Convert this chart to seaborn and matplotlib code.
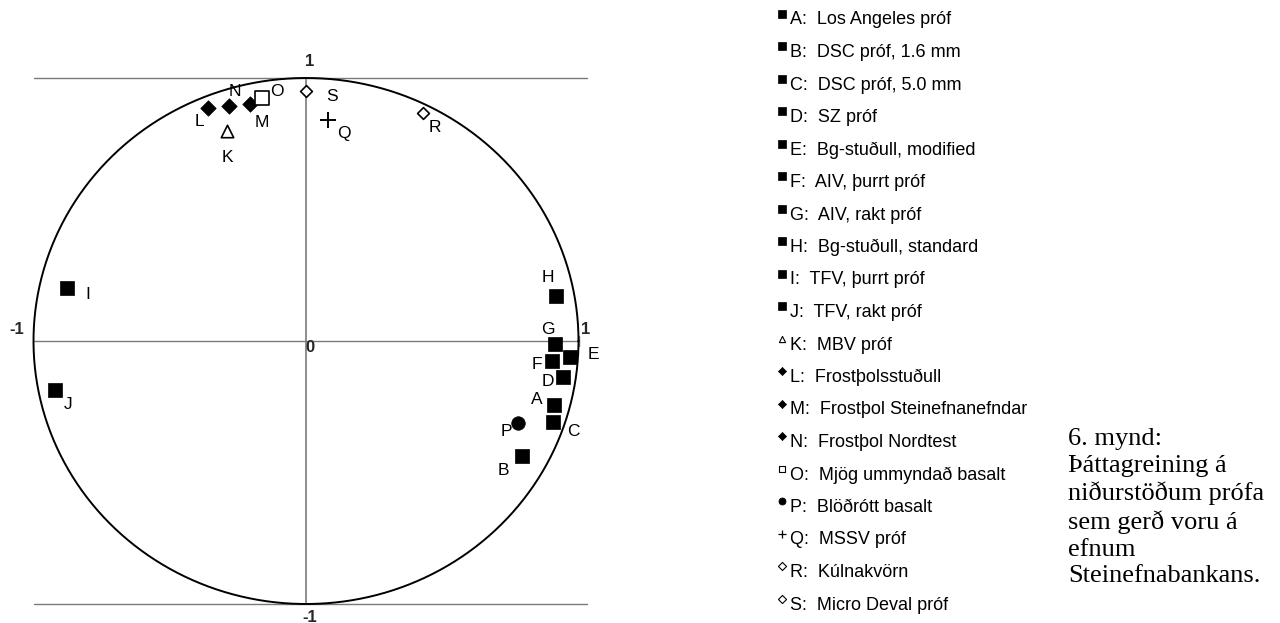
import matplotlib
matplotlib.use("Agg")
import matplotlib.pyplot as plt
import numpy as np
import pandas as pd
import seaborn as sns

# ---------------- data ----------------
codes = ["A", "B", "C", "D", "E", "F", "G", "H", "I", "J",
         "K", "L", "M", "N", "O", "P", "Q", "R", "S"]
names = ["Los Angeles próf", "DSC próf, 1.6 mm", "DSC próf, 5.0 mm", "SZ próf",
         "Bg-stuðull, modified", "AIV, þurrt próf", "AIV, rakt próf",
         "Bg-stuðull, standard", "TFV, þurrt próf", "TFV, rakt próf",
         "MBV próf", "Frostþolsstuðull", "Frostþol Steinefnanefndar",
         "Frostþol Nordtest", "Mjög ummyndað basalt", "Blöðrótt basalt",
         "MSSV próf", "Kúlnakvörn", "Micro Deval próf"]
factor1 = [0.910, 0.792, 0.906, 0.942, 0.969, 0.902, 0.914, 0.916, -0.877, -0.921,
           -0.290, -0.360, -0.206, -0.283, -0.161, 0.778, 0.081, 0.429, 0.000]
factor2 = [-0.243, -0.436, -0.308, -0.136, -0.060, -0.075, -0.011, 0.171, 0.202, -0.186,
           0.798, 0.886, 0.901, 0.894, 0.924, -0.312, 0.840, 0.867, 0.951]
kind = ["sq"] * 10 + ["tri", "dia", "dia", "dia", "osq", "circ", "plus", "odia", "odia"]
caption = "6. mynd:\nÞáttagreining á\nniðurstöðum prófa\nsem gerð voru á\nefnum\nSteinefnabankans."

# label offsets in pixels (layout): dx right, dy down
lab_dx = [-17, -18, 20, -15, 23, -15, -7, -8, 21, 13, 0, -8, 12, 6, 15, -12, 16, 12, 26]
lab_dy = [-5, 15, 9, 5, -2, 4, -14, -19, 7, 15, 26, 14, 18, -14, -6, 8, 13, 15, 6]

df = pd.DataFrame({"code": codes, "name": names, "f1": factor1, "f2": factor2,
                   "kind": kind, "row": np.arange(len(codes))})

# marker styles per kind: (marker, size, face, linewidth)
styles = {
    "sq":   ("s", 100, "black", 0.5),
    "tri":  ("^", 80, "white", 1.2),
    "dia":  ("D", 62, "black", 0.5),
    "osq":  ("s", 95, "white", 1.2),
    "circ": ("o", 95, "black", 0.5),
    "plus": ("+", 120, "black", 1.4),
    "odia": ("D", 36, "white", 1.2),
}
leg_styles = {
    "sq":   ("s", 26, "black", 0.5),
    "tri":  ("^", 20, "white", 0.8),
    "dia":  ("D", 17, "black", 0.5),
    "osq":  ("s", 22, "white", 0.8),
    "circ": ("o", 26, "black", 0.5),
    "plus": ("+", 32, "black", 0.9),
    "odia": ("D", 17, "white", 0.8),
}

sns.set_theme(style="white")
plt.rcParams["font.family"] = ["Liberation Sans", "DejaVu Sans"]

W, H = 1280, 623
fig = plt.figure(figsize=(W / 100, H / 100), dpi=100)
fig.patch.set_facecolor("white")

# ---------------- main circle chart ----------------
ax = fig.add_axes([33.5 / W, (H - 604) / H, 545 / W, 526 / H])
ax.set_xlim(-1, 1)
ax.set_ylim(-1, 1)
ax.set_axis_off()

grey = "#7a7a7a"
ax.plot([-1, 1.03], [1, 1], color=grey, lw=1.0, clip_on=False)
ax.plot([-1, 1.03], [-1, -1], color=grey, lw=1.0, clip_on=False)
ax.plot([-1, 1], [0, 0], color=grey, lw=1.0, clip_on=False)
ax.plot([0, 0], [-1, 1], color=grey, lw=1.2, clip_on=False)
ax.plot([1, 1], [-0.02, 0.02], color=grey, lw=1.0, clip_on=False)
theta = np.linspace(0, 2 * np.pi, 400)
ax.plot(np.cos(theta), np.sin(theta), color="black", lw=1.4, clip_on=False)

for k, (mk, s, fc, lw) in styles.items():
    sub = df[df["kind"] == k]
    if mk == "+":
        sns.scatterplot(data=sub, x="f1", y="f2", ax=ax, marker=mk, s=s,
                        color="black", linewidth=lw, clip_on=False, zorder=5)
    else:
        sns.scatterplot(data=sub, x="f1", y="f2", ax=ax, marker=mk, s=s,
                        facecolor=fc, edgecolor="black", linewidth=lw,
                        clip_on=False, zorder=5)

for i, r in df.iterrows():
    ax.annotate(r["code"], (r["f1"], r["f2"]), xytext=(lab_dx[i], -lab_dy[i]),
                textcoords="offset pixels", ha="center", va="center",
                fontsize=12.5, color="black", annotation_clip=False)

# axis value labels
def axlab(txt, xy, off):
    ax.annotate(txt, xy, xytext=off, textcoords="offset pixels",
                ha="center", va="center", fontsize=12, fontweight="bold",
                annotation_clip=False)

axlab("1", (0, 1), (4, 16))
axlab("-1", (0, -1), (4, -14))
axlab("0", (0, 0), (4, -7))
axlab("-1", (-1, 0), (-17, 11))
axlab("1", (1, 0), (7, 12))

# ---------------- legend list ----------------
top_px, bot_px = 20, 605
lax = fig.add_axes([778 / W, (H - bot_px) / H, 400 / W, (bot_px - top_px) / H])
lax.set_xlim(0, 400)
lax.set_ylim(len(codes) - 1, 0)
lax.set_axis_off()
df["lx"] = 4.0
df["ly"] = df["row"] - 0.2
for k, (mk, s, fc, lw) in leg_styles.items():
    sub = df[df["kind"] == k]
    if mk == "+":
        sns.scatterplot(data=sub, x="lx", y="ly", ax=lax, marker=mk, s=s,
                        color="black", linewidth=lw, clip_on=False)
    else:
        sns.scatterplot(data=sub, x="lx", y="ly", ax=lax, marker=mk, s=s,
                        facecolor=fc, edgecolor="black", linewidth=lw, clip_on=False)
for i, r in df.iterrows():
    lax.text(12, r["row"], f"{r['code']}:  {r['name']}", ha="left", va="center",
             fontsize=13, color="black")

# ---------------- caption ----------------
fig.text(1068 / W, (H - 428) / H, caption, ha="left", va="top",
         fontsize=19, family=["Liberation Serif", "DejaVu Serif"],
         linespacing=1.27, color="black")

fig.savefig("out.png", dpi=100, facecolor="white")
